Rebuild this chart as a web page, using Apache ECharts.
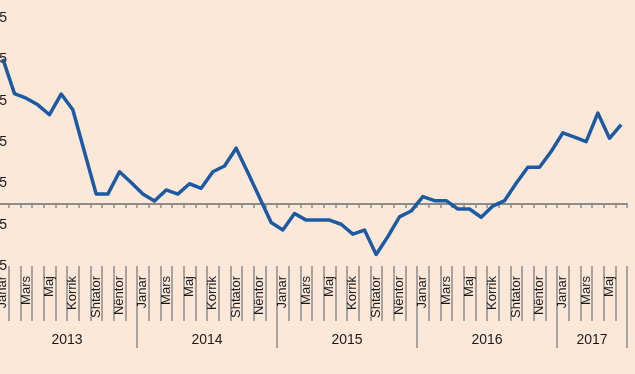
<!DOCTYPE html>
<html>
<head>
<meta charset="utf-8">
<script src="https://cdn.jsdelivr.net/npm/echarts@6/dist/echarts.min.js"></script>
<style>
html,body{margin:0;padding:0;background:#FCE8D9;}
#c{width:635px;height:374px;}
</style>
</head>
<body>
<div id="c"></div>
<script>
// ---- data ----
const years = ['2013', '2014', '2015', '2016', '2017'];
const yearMonths = [12, 12, 12, 12, 6];
const monthNames = ['Janar', 'Shkurt', 'Mars', 'Prill', 'Maj', 'Qershor', 'Korrik', 'Gusht', 'Shtator', 'Tetor', 'Nëntor', 'Dhjetor'];
const values = [
  3.51, 2.67, 2.56, 2.40, 2.16, 2.66, 2.28, 1.26, 0.24, 0.24, 0.78, 0.52,
  0.24, 0.07, 0.34, 0.24, 0.49, 0.38, 0.78, 0.92, 1.35, 0.76, 0.16, -0.45,
  -0.63, -0.23, -0.39, -0.39, -0.39, -0.49, -0.73, -0.63, -1.22, -0.79, -0.31, -0.17,
  0.18, 0.08, 0.08, -0.12, -0.12, -0.32, -0.05, 0.08, 0.50, 0.89, 0.89, 1.27,
  1.72, 1.62, 1.51, 2.20, 1.59, 1.92
];
const yTickLabels = ['-1.5', '-0.5', '0.5', '1.5', '2.5', '3.5', '4.5'];

// ---- derived ----
const categories = [];
const yearStarts = [];
const yearCenters = {};
let acc = 0;
years.forEach((y, k) => {
  yearStarts.push(acc);
  yearCenters[acc + yearMonths[k] / 2] = y;
  for (let m = 0; m < yearMonths[k]; m++) categories.push(monthNames[m] + ' ' + y);
  acc += yearMonths[k];
});
const totalMonths = acc;

const FONT = "'Liberation Sans', Arial, sans-serif";
const GRAY = '#8C8C8C';
const TXT = '#1a1a1a';

const chart = echarts.init(document.getElementById('c'), null, {renderer: 'canvas'});
chart.setOption({
  backgroundColor: '#FCE8D9',
  animation: false,
  grid: {left: -3, right: 8, top: 18, bottom: 108, containLabel: false, outerBoundsMode: 'none'},
  xAxis: [
    { // zero line with small ticks
      type: 'category', data: categories, position: 'bottom', boundaryGap: true,
      axisLine: {show: true, onZero: true, onZeroAxisIndex: 0, lineStyle: {color: GRAY, width: 2}},
      axisTick: {show: true, interval: 0, length: 4, lineStyle: {color: GRAY, width: 1.5}},
      axisLabel: {show: false}, splitLine: {show: false}
    },
    { // month labels and separators
      type: 'category', data: categories, position: 'bottom', boundaryGap: true,
      axisLine: {show: false, onZero: false},
      axisTick: {show: true, interval: 0, length: 55, lineStyle: {color: GRAY, width: 1.5}},
      axisLabel: {
        show: true, interval: 1, rotate: 90, margin: 10,
        fontFamily: FONT, fontSize: 13, color: TXT,
        formatter: v => v.split(' ')[0]
      },
      splitLine: {show: false}
    },
    { // year separators
      type: 'category', data: categories, position: 'bottom', boundaryGap: true,
      axisLine: {show: false, onZero: false},
      axisTick: {show: true, interval: i => yearStarts.indexOf(i) >= 0, length: 82, lineStyle: {color: GRAY, width: 1.5}},
      axisLabel: {show: false}, splitLine: {show: false}
    },
    { // year labels
      type: 'value', min: 0, max: totalMonths, interval: 3, position: 'bottom',
      axisLine: {show: false, onZero: false}, axisTick: {show: false}, splitLine: {show: false},
      axisLabel: {
        show: true, margin: 67, fontFamily: FONT, fontSize: 14, color: TXT,
        showMinLabel: true, showMaxLabel: true,
        formatter: v => yearCenters[v] || ''
      }
    }
  ],
  yAxis: [
    {
      type: 'value', min: -1.5, max: 4.5, show: true,
      axisLine: {show: false, onZero: false}, axisTick: {show: false},
      axisLabel: {show: false}, splitLine: {show: false}
    },
    {
      type: 'value', min: 0, max: 6, interval: 1, position: 'left',
      axisLine: {show: false, onZero: false}, axisTick: {show: false}, splitLine: {show: false},
      axisLabel: {
        show: true, margin: -10, fontFamily: FONT, fontSize: 14, color: TXT,
        formatter: v => yTickLabels[Math.round(v)]
      }
    }
  ],
  series: [{
    type: 'line', xAxisIndex: 0, yAxisIndex: 0, data: values,
    symbol: 'none', smooth: false,
    lineStyle: {color: '#1C5AA3', width: 3.5, join: 'round'},
    itemStyle: {color: '#1C5AA3'}
  }]
});
</script>
</body>
</html>
